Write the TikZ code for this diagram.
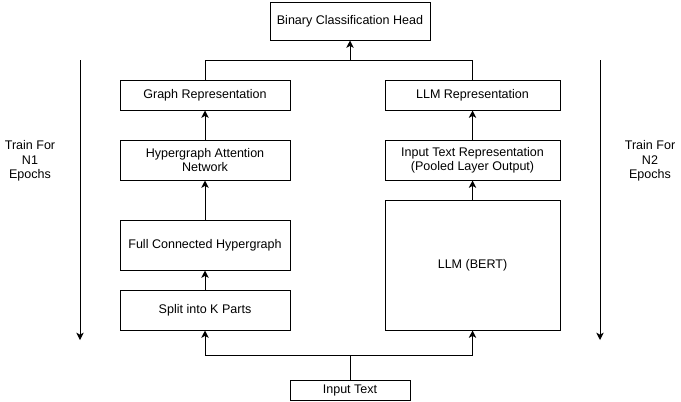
\documentclass[tikz,border=0pt]{standalone}
\usepackage{fontspec}
\setmainfont{Liberation Sans}
\usetikzlibrary{arrows.meta}
\begin{document}
\begin{tikzpicture}[x=0.75pt,y=-0.75pt,
  every node/.style={font=\fontsize{9.4}{10.8}\selectfont},
  box/.style={draw,line width=0.75pt,minimum width=127.5pt,inner sep=0pt,align=center,anchor=center},
  conn/.style={line width=0.75pt},
  arr/.style={conn,-{Stealth[length=5.5pt,width=5.5pt,inset=1.5pt]}},
  lbl/.style={align=center,inner sep=0pt}]
\useasboundingbox (0,0) rectangle (681,401);
\node[box,minimum width=120pt,minimum height=28.5pt] (head) at (350,21) {Binary Classification Head};
\node[box,minimum height=22.5pt] (grep) at (205,95) {Graph Representation};
\node[box,minimum height=30pt] (han) at (205,160) {Hypergraph Attention\\Network};
\node[box,minimum height=37.5pt] (fch) at (205,245) {Full Connected Hypergraph};
\node[box,minimum height=30pt] (split) at (205,310) {Split into K Parts};
\node[box,minimum width=131.25pt,minimum height=22.5pt] (lrep) at (472.5,95) {LLM Representation};
\node[box,minimum width=131.25pt,minimum height=30pt] (itr) at (472.5,160) {Input Text Representation\\(Pooled Layer Output)};
\node[box,minimum width=131.25pt,minimum height=97.5pt] (bert) at (472.5,265) {LLM (BERT)};
\node[box,minimum width=90pt,minimum height=15pt] (in) at (350,390) {Input Text};
\coordinate (j1) at (350,355);
\coordinate (j2) at (350,60);
\draw[arr] (in.north) -- (j1) -| (split.south);
\draw[arr] (j1) -| (bert.south);
\draw[arr] (split) -- (fch);
\draw[arr] (fch) -- (han);
\draw[arr] (han) -- (grep);
\draw[arr] (bert) -- (itr);
\draw[arr] (itr) -- (lrep);
\draw[conn] (grep.north) |- (j2);
\draw[conn] (lrep.north) |- (j2);
\draw[arr] (j2) -- (head.south);
\coordinate (l1) at (80,60);
\coordinate (l2) at (80,340);
\coordinate (r1) at (600,60);
\coordinate (r2) at (600,340);
\draw[arr] (l1) -- (l2);
\draw[arr] (r1) -- (r2);
\node[lbl] (tl) at (30,161) {Train For\\N1\\Epochs};
\node[lbl] (tr) at (650,161) {Train For\\N2\\Epochs};
\end{tikzpicture}
\end{document}
